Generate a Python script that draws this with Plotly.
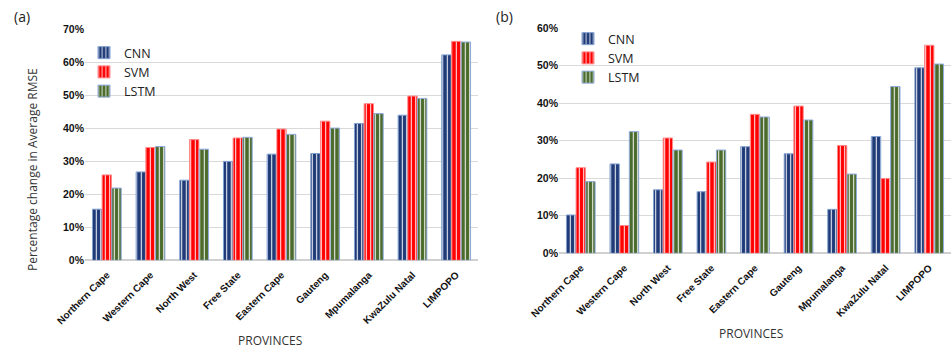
import plotly.graph_objects as go

provinces = ["Northern Cape", "Western Cape", "North West", "Free State", "Eastern Cape",
             "Gauteng", "Mpumalanga", "KwaZulu Natal", "LIMPOPO"]

# Panel (a)
a_cnn = [0.155, 0.268, 0.243, 0.300, 0.322, 0.324, 0.415, 0.440, 0.623]
a_svm = [0.259, 0.342, 0.366, 0.371, 0.398, 0.422, 0.475, 0.498, 0.664]
a_lstm = [0.219, 0.345, 0.337, 0.373, 0.382, 0.401, 0.445, 0.491, 0.662]

# Panel (b)
b_cnn = [0.102, 0.238, 0.169, 0.164, 0.284, 0.265, 0.117, 0.311, 0.494]
b_svm = [0.228, 0.074, 0.307, 0.243, 0.370, 0.392, 0.287, 0.199, 0.554]
b_lstm = [0.191, 0.324, 0.275, 0.275, 0.363, 0.355, 0.211, 0.444, 0.504]

a_ticks = [0, 0.1, 0.2, 0.3, 0.4, 0.5, 0.6, 0.7]
b_ticks = [0, 0.1, 0.2, 0.3, 0.4, 0.5, 0.6]

series_names = ["CNN", "SVM", "LSTM"]
fill_colors = ["#1f3a78", "#ff0000", "#4b6b2c"]
line_colors = ["#7f9fd0", "#ff8a8a", "#8eaadb"]

fig = go.Figure()

def add_panel(vals, xa, ya, legend):
    for name, v, fc, lc in zip(series_names, vals, fill_colors, line_colors):
        fig.add_trace(go.Bar(
            x=provinces, y=v, name=name, xaxis=xa, yaxis=ya, legend=legend,
            marker=dict(color=fc, line=dict(color=lc, width=1),
                        pattern=dict(shape="|", fgcolor="white", fgopacity=1.0,
                                     size=4.5, solidity=0.22)),
        ))

add_panel([a_cnn, a_svm, a_lstm], "x", "y", "legend")
add_panel([b_cnn, b_svm, b_lstm], "x2", "y2", "legend2")

W, H = 951, 356
tickfont_y = dict(family="Liberation Sans", size=10.5, color="#111111", weight="bold")
tickfont_x = dict(family="Liberation Sans", size=10, color="#111111", weight="bold")

common_x = dict(type="category", tickangle=-45, tickfont=tickfont_x, showgrid=False,
                showline=False, ticks="", zeroline=False, automargin=False,
                ticklabelstandoff=6)
common_y = dict(tickformat=".0%", tickfont=tickfont_y, showgrid=True, gridcolor="#d9d9d9",
                gridwidth=1, zeroline=True, zerolinecolor="#d0d0d0", zerolinewidth=1.5,
                showline=False, ticks="", automargin=False)

fig.update_layout(
    width=W, height=H, autosize=False,
    margin=dict(l=0, r=0, t=0, b=0, pad=0, autoexpand=False),
    paper_bgcolor="white", plot_bgcolor="white",
    bargap=0.335, bargroupgap=0.03,
    barmode="group",
    xaxis=dict(domain=[85 / W, 478 / W], anchor="y", **common_x),
    yaxis=dict(domain=[1 - 260.3 / H, 1 - 29.5 / H], anchor="x", range=[0, 0.7],
               tickvals=a_ticks, **common_y),
    xaxis2=dict(domain=[559 / W, 1.0], anchor="y2", **common_x),
    yaxis2=dict(domain=[1 - 253.3 / H, 1 - 28 / H], anchor="x2", range=[0, 0.6],
                tickvals=b_ticks, **common_y),
    legend=dict(x=84 / W, y=1 - 38 / H, xanchor="left", yanchor="top",
                bgcolor="rgba(0,0,0,0)", font=dict(family="Open Sans", size=12.5, color="#222222"),
                tracegroupgap=0, itemwidth=30),
    legend2=dict(x=568 / W, y=1 - 24 / H, xanchor="left", yanchor="top",
                 bgcolor="rgba(0,0,0,0)", font=dict(family="Open Sans", size=12.5, color="#222222"),
                 tracegroupgap=0, itemwidth=30),
    showlegend=True,
)

ann_font = dict(family="Open Sans", size=12, color="#333333")
fig.add_annotation(text="(a)", x=12 / W, y=1 - 16 / H, xref="paper", yref="paper",
                   showarrow=False, xanchor="left", yanchor="middle",
                   font=dict(family="Open Sans", size=14, color="#222222"))
fig.add_annotation(text="(b)", x=494 / W, y=1 - 16 / H, xref="paper", yref="paper",
                   showarrow=False, xanchor="left", yanchor="middle",
                   font=dict(family="Open Sans", size=14, color="#222222"))
fig.add_annotation(text="Percentage change in Average RMSE", x=33 / W, y=1 - 170 / H,
                   xref="paper", yref="paper", showarrow=False, textangle=-90,
                   xanchor="center", yanchor="middle",
                   font=dict(family="Open Sans", size=12, color="#333333"))
fig.add_annotation(text="PROVINCES", x=270 / W, y=1 - 340 / H, xref="paper", yref="paper",
                   showarrow=False, xanchor="center", yanchor="middle", font=ann_font)
fig.add_annotation(text="PROVINCES", x=751 / W, y=1 - 333 / H, xref="paper", yref="paper",
                   showarrow=False, xanchor="center", yanchor="middle", font=ann_font)

fig.write_html("out.html", config={"responsive": False, "displayModeBar": False},
               post_script="document.body.style.margin='0';document.body.style.overflow='hidden';")
